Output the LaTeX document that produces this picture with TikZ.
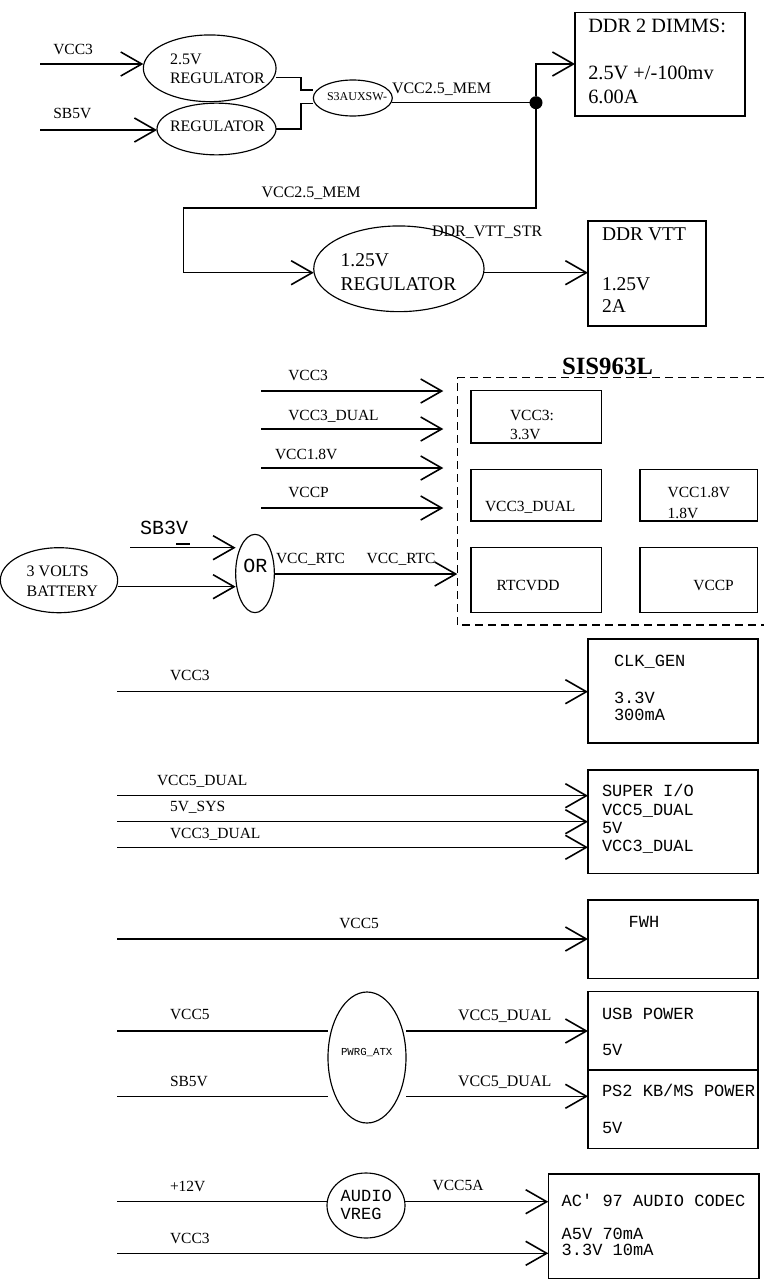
\documentclass[tikz,border=0pt]{standalone}
\usepackage{fontspec}
\setmainfont{Liberation Serif}
\setmonofont{Liberation Mono}
\usetikzlibrary{arrows.meta,shapes.geometric}
\begin{document}
\begin{tikzpicture}[x=1pt,y=-1pt,line width=1.15pt,
  arr/.style={-{Straight Barb[length=21pt,width=24pt,line width=1.6pt]}},
  box/.style={draw,line width=1.25pt,rectangle,inner sep=0pt,outer sep=0pt,anchor=north west},
  ell/.style={draw,ellipse,inner sep=0pt,outer sep=0pt},
  dot/.style={circle,fill=black,inner sep=0pt,outer sep=0pt,minimum size=13pt},
  txt/.style={inner sep=0pt,outer sep=0pt,anchor=base west},
  lab/.style={txt,font=\fontsize{15.5}{18}\selectfont},
  labb/.style={txt,font=\fontsize{16}{18}\selectfont},
  big/.style={txt,font=\fontsize{19.5}{22}\selectfont},
  mono/.style={txt,font=\ttfamily\fontsize{17}{19}\selectfont},
  monob/.style={txt,font=\ttfamily\fontsize{20}{22}\selectfont},
  dashedbox/.style={dash pattern=on 8pt off 5pt,line width=1.1pt}
]
\fill[white] (0,0) rectangle (764,1287);
\useasboundingbox (0,0) rectangle (764,1287);

% ---------------- top: 2.5V regulators ----------------
\node[ell,minimum width=132.7pt,minimum height=66.7pt] (reg25) at (209.7,68.3) {};
\node[ell,minimum width=119pt,minimum height=51.7pt] (regsb) at (216.5,129) {};
\node[ell,minimum width=79pt,minimum height=36pt] (s3) at (352.8,98) {};
\node[dot] (jd) at (536,102.7) {};
\node[box,minimum width=170pt,minimum height=103.7pt] (ddr) at (575,12.3) {};

\node[lab] (l1) at (53.3,55) {VCC3};
\node[lab] (l2) at (53.3,119) {SB5V};
\node[labb] (t1) at (170,65) {2.5V};
\node[labb] (t2) at (170,83.3) {REGULATOR};
\node[labb] (t3) at (170,131.7) {REGULATOR};
\node[txt,font=\fontsize{12}{14}\selectfont] (t4) at (327,100.7) {S3AUXSW-};
\node[labb] (l3) at (392,93.3) {VCC2.5\_MEM};
\node[txt,font=\fontsize{20.3}{22}\selectfont] (d1t) at (588.3,32.3) {DDR 2 DIMMS:};
\node[txt,font=\fontsize{20.3}{22}\selectfont] (d2t) at (588.3,80) {2.5V +/-100mv};
\node[txt,font=\fontsize{20.3}{22}\selectfont] (d3t) at (588.3,103.3) {6.00A};

\coordinate (a1) at (40,64);
\draw[arr] (a1) -- (a1 -| reg25.west);
\coordinate (a2) at (40,130);
\draw[arr] (a2) -- (a2 -| regsb.west);
\coordinate (j1a) at (301,77.3);
\coordinate (j1b) at (301,90);
\draw (j1a -| reg25.east) -- (j1a) -- (j1b) -- (j1b -| s3.west);
\coordinate (j2a) at (301,129);
\coordinate (j2b) at (301,103.3);
\draw (j2a -| regsb.east) -- (j2a) -- (j2b) -- (j2b -| s3.west);
\draw (jd -| s3.east) -- (jd);
\coordinate (k1) at (536,64);
\draw[arr] (jd) -- (k1) -- (k1 -| ddr.west);

% ---------------- 1.25V regulator ----------------
\node[ell,minimum width=170.3pt,minimum height=85.7pt] (reg125) at (398.9,268.8) {};
\node[box,minimum width=118pt,minimum height=105pt] (vtt) at (588,221) {};
\coordinate (k2) at (536,208);
\coordinate (k3) at (183.3,208);
\coordinate (k4) at (183.3,272.7);
\draw[arr] (jd) -- (k2) -- (k3) -- (k4) -- (k4 -| reg125.west);
\draw[arr] (k4 -| reg125.east) -- (k4 -| vtt.west);
\node[labb] (l4) at (261.6,197.7) {VCC2.5\_MEM};
\node[labb] (l5) at (432,236.7) {DDR\_VTT\_STR};
\node[big] (t5) at (340.7,266) {1.25V};
\node[big] (t6) at (340.7,290.7) {REGULATOR};
\node[big] (v1t) at (602,240) {DDR VTT};
\node[big] (v2t) at (602,290) {1.25V};
\node[big] (v3t) at (602,312.7) {2A};

% ---------------- SIS963L ----------------
\node[inner sep=0pt,outer sep=0pt,minimum width=306.7pt,minimum height=247.3pt,anchor=north west] (sis) at (457.3,377.7) {};
\draw[dashedbox] (sis.north east) -- (sis.north west) -- (sis.south west) -- (sis.south east);
\node[txt,font=\bfseries\fontsize{24.8}{28}\selectfont] (sist) at (562,374.3) {SIS963L};

\node[box,minimum width=130.7pt,minimum height=52.3pt] (bv3) at (471,390.7) {};
\node[box,minimum width=130.7pt,minimum height=51.7pt] (bdual) at (471,469.3) {};
\node[box,minimum width=117.7pt,minimum height=51.7pt] (b18) at (640,469.3) {};
\node[box,minimum width=130.7pt,minimum height=65pt] (brtc) at (471,547.7) {};
\node[box,minimum width=117.7pt,minimum height=65pt] (bvccp) at (640,547.7) {};
\node[lab] at (510,420) {VCC3:};
\node[lab] at (510,439) {3.3V};
\node[lab] at (485,511.7) {VCC3\_DUAL};
\node[lab] at (667.7,497.3) {VCC1.8V};
\node[lab] at (667.7,518.3) {1.8V};
\node[lab] at (496.7,590) {RTCVDD};
\node[lab] at (693.3,590) {VCCP};

\coordinate (sx) at (443.3,0);
\coordinate (s1) at (261,391);
\coordinate (s2) at (261,429);
\coordinate (s3p) at (261,468);
\coordinate (s4) at (261,508);
\draw[arr] (s1) -- (s1 -| sx);
\draw[arr] (s2) -- (s2 -| sx);
\draw[arr] (s3p) -- (s3p -| sx);
\draw[arr] (s4) -- (s4 -| sx);
\node[lab] at (288.3,380.7) {VCC3};
\node[lab] at (288.3,420) {VCC3\_DUAL};
\node[lab] at (275,459) {VCC1.8V};
\node[lab] at (288.3,497.7) {VCCP};

\node[ell,minimum width=117.3pt,minimum height=65pt] (bat) at (59,580.2) {};
\node[ell,minimum width=38.7pt,minimum height=78.3pt] (orn) at (255,573.5) {};
\node[labb] at (26.7,576.7) {3 VOLTS};
\node[labb] at (26.7,596.7) {BATTERY};
\node[monob] at (243.3,572.7) {OR};
\node[monob] at (140,534) {SB3V};
\coordinate (us) at (176,544);
\draw[line width=1.2pt] (us) -- ++(14,0);
\coordinate (sb3) at (130,547.7);
\draw[arr] (sb3) -- (sb3 -| orn.west);
\coordinate (yb) at (0,586.7);
\draw[arr] (bat.east |- yb) -- (orn.west |- yb);
\coordinate (yr) at (0,574);
\draw[arr] (orn.east |- yr) -- (sis.west |- yr);
\node[lab] at (276,563.3) {VCC\_RTC};
\node[lab] at (366.7,563.3) {VCC\_RTC};

% ---------------- CLK_GEN ----------------
\node[box,minimum width=170pt,minimum height=104pt] (clk) at (588,639) {};
\coordinate (c1) at (117,691.7);
\draw[arr] (c1) -- (c1 -| clk.west);
\node[lab] at (170,680) {VCC3};
\node[mono] at (614,666.7) {CLK\_GEN};
\node[mono] at (614,703.3) {3.3V};
\node[mono] at (614,720.7) {300mA};

% ---------------- SUPER I/O ----------------
\node[box,minimum width=170pt,minimum height=103.3pt] (sio) at (588,770) {};
\coordinate (e1) at (117,795.7);
\coordinate (e2) at (117,821.7);
\coordinate (e3) at (117,847.3);
\draw[arr] (e1) -- (e1 -| sio.west);
\draw[arr] (e2) -- (e2 -| sio.west);
\draw[arr] (e3) -- (e3 -| sio.west);
\node[lab] at (157,785) {VCC5\_DUAL};
\node[lab] at (170,811.7) {5V\_SYS};
\node[lab] at (170,838.3) {VCC3\_DUAL};
\node[mono] at (602,796.7) {SUPER I/O};
\node[mono] at (602,815) {VCC5\_DUAL};
\node[mono] at (602,833.3) {5V};
\node[mono] at (602,851.7) {VCC3\_DUAL};

% ---------------- FWH ----------------
\node[box,minimum width=170pt,minimum height=78.3pt] (fwh) at (588,900) {};
\coordinate (f1) at (117,939);
\draw[arr] (f1) -- (f1 -| fwh.west);
\node[lab] at (339.3,928.3) {VCC5};
\node[mono] at (628.6,927) {FWH};

% ---------------- USB / PS2 ----------------
\node[box,minimum width=170pt,minimum height=78.3pt] (usb) at (588,991.7) {};
\node[box,minimum width=170pt,minimum height=78.3pt] (ps2) at (588,1070) {};
\node[ell,minimum width=78pt,minimum height=131pt] (pw) at (367,1057.5) {};
\node[txt,font=\ttfamily\fontsize{10.7}{12}\selectfont] at (341,1055.7) {PWRG\_ATX};
\coordinate (u1) at (117,1031);
\coordinate (u2) at (117,1096.3);
\draw (u1) -- (u1 -| pw.west);
\draw[arr] (u1 -| pw.east) -- (u1 -| usb.west);
\draw (u2) -- (u2 -| pw.west);
\draw[arr] (u2 -| pw.east) -- (u2 -| ps2.west);
\node[lab] at (170,1019.3) {VCC5};
\node[lab] at (170,1086) {SB5V};
\node[labb] at (458,1020.7) {VCC5\_DUAL};
\node[labb] at (458,1086.7) {VCC5\_DUAL};
\node[mono] at (602,1019) {USB POWER};
\node[mono] at (602,1055.7) {5V};
\node[mono] at (602,1096.7) {PS2 KB/MS POWER};
\node[mono] at (602,1133.3) {5V};

% ---------------- AUDIO ----------------
\node[ell,minimum width=78pt,minimum height=65pt] (av) at (366,1205.5) {};
\node[box,minimum width=210.7pt,minimum height=104.3pt] (ac) at (548.3,1174) {};
\coordinate (w1) at (117,1201.7);
\coordinate (w2) at (117,1253.3);
\draw (w1) -- (w1 -| av.west);
\draw[arr] (w1 -| av.east) -- (w1 -| ac.west);
\draw[arr] (w2) -- (w2 -| ac.west);
\node[lab] at (170,1191.7) {+12V};
\node[lab] at (170,1243.3) {VCC3};
\node[lab] at (432.7,1190.7) {VCC5A};
\node[mono] at (340.7,1201.7) {AUDIO};
\node[mono] at (340.7,1219.3) {VREG};
\node[mono] at (561.7,1206.7) {AC' 97 AUDIO CODEC};
\node[mono] at (561.7,1239.5) {A5V 70mA};
\node[mono] at (561.7,1255.5) {3.3V 10mA};
\end{tikzpicture}
\end{document}
